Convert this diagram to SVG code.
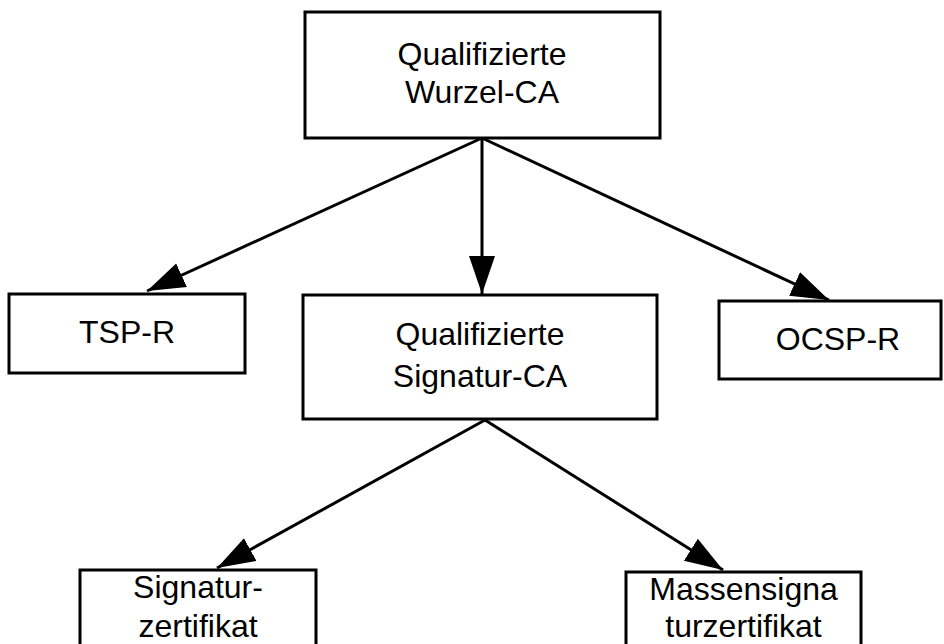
<svg xmlns="http://www.w3.org/2000/svg" width="944" height="644" viewBox="0 0 944 644">
<defs>
<style>
.box{fill:#fff;stroke:#000;stroke-width:3}
.lbl{font-family:"Liberation Sans",Arial,sans-serif;font-size:32px;fill:#000;text-anchor:middle}
.con{fill:none;stroke:#000;stroke-width:3;marker-end:url(#ah)}
</style>
<marker id="ah" markerUnits="userSpaceOnUse" markerWidth="40" markerHeight="28" refX="38" refY="13" orient="auto" viewBox="0 0 40 28">
<path d="M0,0 L38,13 L0,26 z" fill="#000"/>
</marker>
</defs>
<rect width="944" height="644" fill="#fff"/>
<g id="connectors">
<line class="con" x1="482" y1="138" x2="147" y2="291"/>
<line class="con" x1="482" y1="138" x2="482" y2="294"/>
<line class="con" x1="482" y1="138" x2="829" y2="300"/>
<line class="con" x1="485" y1="420" x2="217" y2="568"/>
<line class="con" x1="485" y1="420" x2="723" y2="570"/>
</g>
<g id="root-ca">
<rect class="box" x="305" y="12" width="355" height="126"/>
<text class="lbl" x="482" y="65">Qualifizierte</text>
<text class="lbl" x="482" y="103">Wurzel-CA</text>
</g>
<g id="tsp-r">
<rect class="box" x="9" y="294" width="236" height="79"/>
<text class="lbl" x="127" y="343">TSP-R</text>
</g>
<g id="signatur-ca">
<rect class="box" x="303" y="295" width="354" height="124"/>
<text class="lbl" x="480" y="345">Qualifizierte</text>
<text class="lbl" x="480" y="387">Signatur-CA</text>
</g>
<g id="ocsp-r">
<rect class="box" x="719" y="301" width="222" height="78"/>
<text class="lbl" x="838" y="350">OCSP-R</text>
</g>
<g id="signaturzertifikat">
<rect class="box" x="80" y="570" width="236" height="90"/>
<text class="lbl" x="198" y="598">Signatur-</text>
<text class="lbl" x="198" y="637">zertifikat</text>
</g>
<g id="massensignaturzertifikat">
<rect class="box" x="626" y="572" width="235" height="90"/>
<text class="lbl" x="743.5" y="600">Massensigna</text>
<text class="lbl" x="743.5" y="637">turzertifikat</text>
</g>
</svg>
